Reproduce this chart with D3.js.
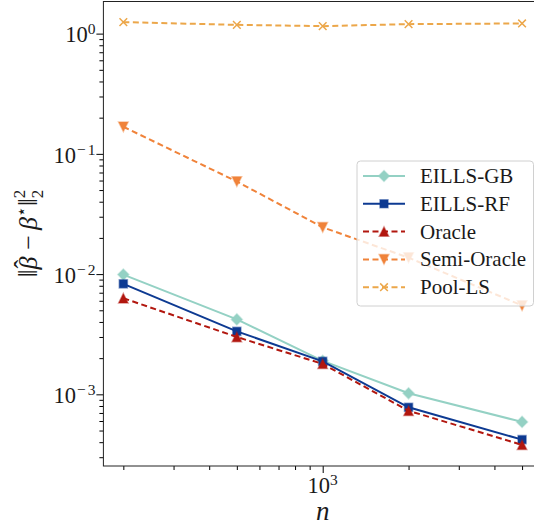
<!DOCTYPE html>
<html>
<head>
<meta charset="utf-8">
<script src="https://cdn.jsdelivr.net/npm/d3@7"></script>
<style>
body { margin: 0; background: #fff; }
svg { display: block; }
text { font-family: "Liberation Serif", "DejaVu Serif", serif; fill: #1a1a1a; }
</style>
</head>
<body>
<script>
// sample sizes and estimation errors
var nValues    = [200, 500, 1000, 2000, 5000];
var eillsGB    = [0.0099, 0.0042, 0.0019, 0.00102, 0.00059];
var eillsRF    = [0.0083, 0.00334, 0.00188, 0.00078, 0.00042];
var oracle     = [0.0063, 0.0030, 0.00179, 0.00073, 0.00038];
var semiOracle = [0.168, 0.0589, 0.0245, 0.0137, 0.00548];
var poolLS     = [1.246, 1.183, 1.154, 1.199, 1.215];
var seriesNames = ["EILLS-GB", "EILLS-RF", "Oracle", "Semi-Oracle", "Pool-LS"];
var yTickPowers = [0, -1, -2, -3];
var xTickPowers = [3];

var width = 534, height = 527;
var plotL = 103.4, plotR = 542, plotT = 1, plotB = 466;

// custom marker shapes (matplotlib-like)
var triUp = { draw: function(c, s) { var r = Math.sqrt(s) / 2;
  c.moveTo(0, -r); c.lineTo(r, r); c.lineTo(-r, r); c.closePath(); } };
var triDown = { draw: function(c, s) { var r = Math.sqrt(s) / 2;
  c.moveTo(0, r); c.lineTo(r, -r); c.lineTo(-r, -r); c.closePath(); } };

var styles = [
  { color: "#94d1c4", dash: null,    symbol: d3.symbolDiamond2, size: 78, filled: true },
  { color: "#0d3a92", dash: null,    symbol: d3.symbolSquare,   size: 66, filled: true },
  { color: "#b2170f", dash: "6,3.5", symbol: triUp,             size: 88, filled: true },
  { color: "#f0833a", dash: "6,3.5", symbol: triDown,           size: 92, filled: true },
  { color: "#eca74a", dash: "6,3.5", symbol: d3.symbolTimes,    size: 40, filled: false }
];
var allSeries = [eillsGB, eillsRF, oracle, semiOracle, poolLS];

var svg = d3.select("body").append("svg")
    .attr("width", width).attr("height", height);

// log scales with 5% margins (in log space) like matplotlib
function paddedLog(ext) {
  var lo = Math.log10(ext[0]), hi = Math.log10(ext[1]), m = (hi - lo) * 0.05;
  return [Math.pow(10, lo - m), Math.pow(10, hi + m)];
}
var x = d3.scaleLog().domain(paddedLog(d3.extent(nValues))).range([plotL, plotR]);
var y = d3.scaleLog().domain(paddedLog(d3.extent(d3.merge(allSeries)))).range([plotB, plotT]);

function minorTicks(scale, powers) {
  var dom = scale.domain(), out = [];
  powers.forEach(function(p) {
    for (var k = 1; k <= 9; k++) {
      var v = k * Math.pow(10, p);
      if (v >= dom[0] && v <= dom[1]) out.push(v);
    }
  });
  return out;
}
var yMajor = yTickPowers.map(function(p) { return Math.pow(10, p); });
var xMajor = xTickPowers.map(function(p) { return Math.pow(10, p); });
var yMinor = minorTicks(y, [-4, -3, -2, -1, 0]).filter(function(v) { return yMajor.indexOf(v) < 0; });
var xMinor = minorTicks(x, [2, 3]).filter(function(v) { return xMajor.indexOf(v) < 0; });

function tickAxis(axis, g) {
  g.call(axis);
  g.select(".domain").remove();
  g.attr("font-family", null).attr("font-size", null);
}
var gy = svg.append("g").attr("transform", "translate(" + plotL + ",0)");
tickAxis(d3.axisLeft(y).tickValues(yMajor).tickSize(7).tickFormat(""), gy);
var gy2 = svg.append("g").attr("transform", "translate(" + plotL + ",0)");
tickAxis(d3.axisLeft(y).tickValues(yMinor).tickSize(4).tickFormat(""), gy2);
var gx = svg.append("g").attr("transform", "translate(0," + plotB + ")");
tickAxis(d3.axisBottom(x).tickValues(xMajor).tickSize(7).tickFormat(""), gx);
var gx2 = svg.append("g").attr("transform", "translate(0," + plotB + ")");
tickAxis(d3.axisBottom(x).tickValues(xMinor).tickSize(4).tickFormat(""), gx2);

// tick labels 10^k
function powLabel(sel, p) {
  sel.append("tspan").text("10");
  if (p < 0) {
    sel.append("tspan").attr("dx", 1).attr("dy", -8).attr("font-size", 15.5).text("\u2212");
    sel.append("tspan").attr("dx", 2).attr("font-size", 15.5).text(Math.abs(p));
  } else {
    sel.append("tspan").attr("dy", -8).attr("font-size", 15.5).text(p);
  }
}
yTickPowers.forEach(function(p) {
  var t = svg.append("text").attr("x", plotL - 8).attr("y", y(Math.pow(10, p)) + 8.7)
    .attr("text-anchor", "end").attr("font-size", 22.5);
  powLabel(t, p);
});
xTickPowers.forEach(function(p) {
  var t = svg.append("text").attr("x", x(Math.pow(10, p))).attr("y", 493)
    .attr("text-anchor", "middle").attr("font-size", 22.5);
  powLabel(t, p);
});

// frame
svg.append("rect").attr("x", plotL).attr("y", plotT + 0.5)
  .attr("width", plotR - plotL).attr("height", plotB - plotT - 0.5)
  .attr("fill", "none").attr("stroke", "#222").attr("stroke-width", 1);

// series
var line = d3.line().x(function(d, i) { return x(nValues[i]); }).y(function(d) { return y(d); });

function drawMarker(g, st, cx, cy) {
  var p = g.append("path")
    .attr("d", d3.symbol().type(st.symbol).size(st.size)())
    .attr("transform", "translate(" + cx + "," + cy + ")");
  if (st.filled) {
    p.attr("fill", st.color).attr("stroke", st.color)
     .attr("stroke-opacity", 0.45).attr("stroke-width", 1.5);
  } else {
    p.attr("fill", "none").attr("stroke", st.color).attr("stroke-width", 1.5);
  }
}

allSeries.forEach(function(vals, si) {
  var st = styles[si];
  var g = svg.append("g");
  g.append("path").attr("d", line(vals))
    .attr("fill", "none").attr("stroke", st.color).attr("stroke-width", 2)
    .attr("stroke-dasharray", st.dash);
  vals.forEach(function(v, i) { drawMarker(g, st, x(nValues[i]), y(v)); });
});

// legend
var lg = svg.append("g");
lg.append("rect").attr("x", 357).attr("y", 161).attr("width", 176.5).attr("height", 145)
  .attr("rx", 3.5).attr("fill", "#fff").attr("fill-opacity", 0.8)
  .attr("stroke", "#d0d0d0").attr("stroke-width", 1);
seriesNames.forEach(function(name, i) {
  var st = styles[i], ry = 176 + i * 27.8;
  lg.append("line").attr("x1", 363).attr("x2", 405).attr("y1", ry).attr("y2", ry)
    .attr("stroke", st.color).attr("stroke-width", 2).attr("stroke-dasharray", st.dash);
  drawMarker(lg, st, 384, ry);
  lg.append("text").attr("x", 420).attr("y", ry + 7).attr("font-size", 21).text(name);
});

// axis labels
svg.append("text").attr("x", (plotL + plotR) / 2).attr("y", 520)
  .attr("text-anchor", "middle").attr("font-size", 27).attr("font-style", "italic").text("n");

var yl = svg.append("text").attr("transform", "translate(37," + ((plotT + plotB) / 2) + ") rotate(-90)")
  .attr("text-anchor", "middle").attr("font-size", 26);
yl.append("tspan").attr("font-size", 28).text("\u2016");
yl.append("tspan").attr("font-style", "italic").text("\u03B2");
yl.append("tspan").attr("dx", -12).attr("dy", -5).text("\u02C6");
yl.append("tspan").attr("dx", 3.5).attr("dy", 5).text(" \u2212\u2009");
yl.append("tspan").attr("font-style", "italic").text("\u03B2");
yl.append("tspan").attr("font-size", 17).attr("dy", -10).text("\u22C6");
yl.append("tspan").attr("font-size", 28).attr("dy", 10).text("\u2016");
yl.append("tspan").attr("font-size", 17).attr("dy", -12).text("2");
yl.append("tspan").attr("font-size", 17).attr("dx", -8.5).attr("dy", 18).text("2");
</script>
</body>
</html>
